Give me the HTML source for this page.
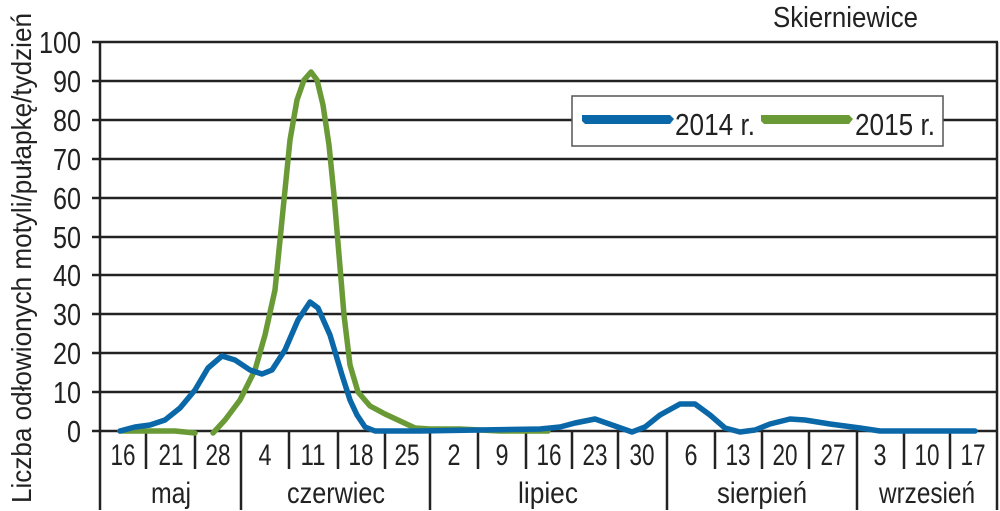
<!DOCTYPE html>
<html><head><meta charset="utf-8"><style>body{margin:0;background:#fff}svg{display:block}</style></head><body>
<svg width="1000" height="511" viewBox="0 0 1000 511" xmlns="http://www.w3.org/2000/svg" font-family="'Liberation Sans',sans-serif" fill="#222">
<g stroke="#222" stroke-width="2.5">
<line x1="92" y1="42" x2="998" y2="42"/><line x1="92" y1="81" x2="998" y2="81"/><line x1="92" y1="120" x2="998" y2="120"/><line x1="92" y1="159" x2="998" y2="159"/><line x1="92" y1="198" x2="998" y2="198"/><line x1="92" y1="237" x2="998" y2="237"/><line x1="92" y1="275" x2="998" y2="275"/><line x1="92" y1="314" x2="998" y2="314"/><line x1="92" y1="353" x2="998" y2="353"/><line x1="92" y1="392" x2="998" y2="392"/><line x1="92" y1="431" x2="998" y2="431"/>
<line x1="100" y1="42" x2="100" y2="510"/><line x1="997" y1="42" x2="997" y2="510"/>
<line x1="146" y1="431" x2="146" y2="469"/><line x1="195" y1="431" x2="195" y2="469"/><line x1="241" y1="431" x2="241" y2="510"/><line x1="289" y1="431" x2="289" y2="469"/><line x1="338" y1="431" x2="338" y2="469"/><line x1="385" y1="431" x2="385" y2="469"/><line x1="430" y1="431" x2="430" y2="510"/><line x1="478" y1="431" x2="478" y2="469"/><line x1="526" y1="431" x2="526" y2="469"/><line x1="572" y1="431" x2="572" y2="469"/><line x1="618" y1="431" x2="618" y2="469"/><line x1="667" y1="431" x2="667" y2="510"/><line x1="715" y1="431" x2="715" y2="469"/><line x1="762" y1="431" x2="762" y2="469"/><line x1="809" y1="431" x2="809" y2="469"/><line x1="857" y1="431" x2="857" y2="510"/><line x1="904" y1="431" x2="904" y2="469"/><line x1="950" y1="431" x2="950" y2="469"/>
</g>
<g font-size="31" text-anchor="end" lengthAdjust="spacingAndGlyphs">
<text x="81" y="53" textLength="42" lengthAdjust="spacingAndGlyphs">100</text><text x="81" y="92" textLength="28" lengthAdjust="spacingAndGlyphs">90</text><text x="81" y="131" textLength="28" lengthAdjust="spacingAndGlyphs">80</text><text x="81" y="170" textLength="28" lengthAdjust="spacingAndGlyphs">70</text><text x="81" y="209" textLength="28" lengthAdjust="spacingAndGlyphs">60</text><text x="81" y="248" textLength="28" lengthAdjust="spacingAndGlyphs">50</text><text x="81" y="286" textLength="28" lengthAdjust="spacingAndGlyphs">40</text><text x="81" y="325" textLength="28" lengthAdjust="spacingAndGlyphs">30</text><text x="81" y="364" textLength="28" lengthAdjust="spacingAndGlyphs">20</text><text x="81" y="403" textLength="28" lengthAdjust="spacingAndGlyphs">10</text><text x="81" y="442" textLength="14" lengthAdjust="spacingAndGlyphs">0</text>
</g>
<g font-size="30" text-anchor="middle">
<text x="123" y="465" textLength="25" lengthAdjust="spacingAndGlyphs">16</text><text x="171" y="465" textLength="25" lengthAdjust="spacingAndGlyphs">21</text><text x="218" y="465" textLength="25" lengthAdjust="spacingAndGlyphs">28</text><text x="265" y="465" textLength="13" lengthAdjust="spacingAndGlyphs">4</text><text x="313" y="465" textLength="25" lengthAdjust="spacingAndGlyphs">11</text><text x="361" y="465" textLength="25" lengthAdjust="spacingAndGlyphs">18</text><text x="407" y="465" textLength="25" lengthAdjust="spacingAndGlyphs">25</text><text x="454" y="465" textLength="13" lengthAdjust="spacingAndGlyphs">2</text><text x="502" y="465" textLength="13" lengthAdjust="spacingAndGlyphs">9</text><text x="549" y="465" textLength="25" lengthAdjust="spacingAndGlyphs">16</text><text x="595" y="465" textLength="25" lengthAdjust="spacingAndGlyphs">23</text><text x="642" y="465" textLength="25" lengthAdjust="spacingAndGlyphs">30</text><text x="691" y="465" textLength="13" lengthAdjust="spacingAndGlyphs">6</text><text x="738" y="465" textLength="25" lengthAdjust="spacingAndGlyphs">13</text><text x="785" y="465" textLength="25" lengthAdjust="spacingAndGlyphs">20</text><text x="833" y="465" textLength="25" lengthAdjust="spacingAndGlyphs">27</text><text x="880" y="465" textLength="13" lengthAdjust="spacingAndGlyphs">3</text><text x="927" y="465" textLength="25" lengthAdjust="spacingAndGlyphs">10</text><text x="973" y="465" textLength="25" lengthAdjust="spacingAndGlyphs">17</text>
<text x="171" y="503" textLength="40" lengthAdjust="spacingAndGlyphs">maj</text><text x="336" y="503" textLength="98" lengthAdjust="spacingAndGlyphs">czerwiec</text><text x="548" y="503" textLength="60" lengthAdjust="spacingAndGlyphs">lipiec</text><text x="762" y="503" textLength="90" lengthAdjust="spacingAndGlyphs">sierpień</text><text x="927" y="503" textLength="96" lengthAdjust="spacingAndGlyphs">wrzesień</text>
</g>
<text x="773" y="27" font-size="29" textLength="145" lengthAdjust="spacingAndGlyphs">Skierniewice</text>
<text transform="translate(31,258) rotate(-90)" font-size="28" text-anchor="middle" textLength="490" lengthAdjust="spacingAndGlyphs">Liczba odłowionych motyli/pułapkę/tydzień</text>
<rect x="572" y="96" width="371" height="50" fill="#fff" stroke="#555" stroke-width="1.5"/>
<path d="M582 115 H670 L674 119 L670 124 H585 L582 121 Z" fill="#0a68a8"/>
<path d="M761 115 H849 L853 119 L849 124 H764 L761 121 Z" fill="#6a9a36"/>
<text x="675" y="135" font-size="31" textLength="80" lengthAdjust="spacingAndGlyphs">2014 r.</text>
<text x="855" y="135" font-size="31" textLength="80" lengthAdjust="spacingAndGlyphs">2015 r.</text>
<g fill="none" stroke-width="5.5" stroke-linejoin="round" stroke-linecap="round">
<polyline stroke="#6a9a36" points="120,431 175,431 195,433"/>
<polyline stroke="#6a9a36" points="213,433 225,420 240,400 255,370 265,335 275,290 283,210 290,140 297,100 304,80 311,72 317,80 323,105 329,145 334,195 339,255 344,315 350,365 358,392 370,406 385,414 400,421 415,428 430,429 460,429 500,431 548,431"/>
<polyline stroke="#0a68a8" points="120,431 135,427 150,425 165,420 180,408 195,390 208,368 222,356 235,360 250,370 262,374 272,370 285,350 298,320 310,302 318,308 330,335 342,375 350,400 357,415 365,427 375,431 420,431 540,429 560,427 575,423 595,419 615,426 632,432 645,427 660,415 680,404 695,404 710,415 725,428 740,432 755,430 770,424 790,419 805,420 830,424 860,428 880,431 975,431"/>
</g>
</svg>
</body></html>
